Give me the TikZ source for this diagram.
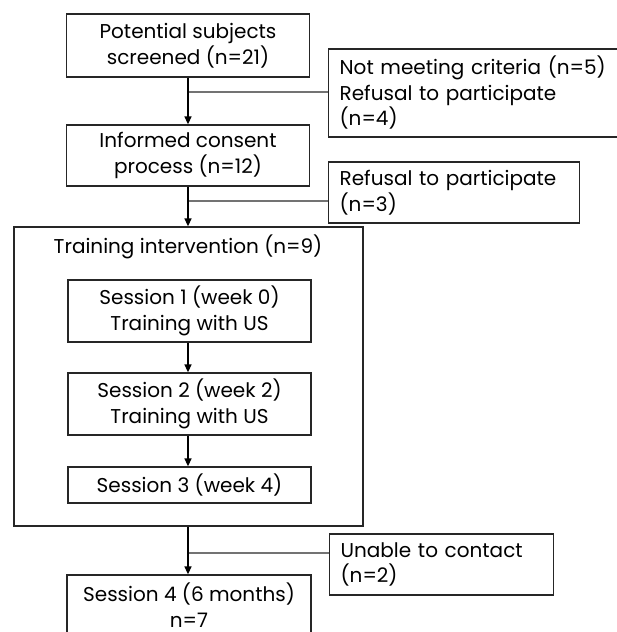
\documentclass[tikz,border=0pt]{standalone}
\usepackage{fontspec}
\setmainfont{Poppins}
\usetikzlibrary{arrows.meta,calc}
\begin{document}
\begin{tikzpicture}[x=1pt,y=1pt,
  txt/.style={font=\fontsize{20}{25.5}\selectfont},
  box/.style={txt, draw=black!85, line width=1.3pt, align=center, inner sep=0pt},
  sidebox/.style={txt, draw=black!85, line width=1.3pt, align=left, anchor=west, inner xsep=11pt, inner ysep=0pt},
  flow/.style={draw=black, line width=1.5pt, -{Triangle[length=8pt,width=7pt]}},
  branch/.style={draw=black!55, line width=1.2pt}]
\clip (0,0) rectangle (617,-632);
\fill[white] (0,0) rectangle (617,-632);
% main column
\node[box, minimum width=243pt, minimum height=63pt] (b1) at (188,-45.5) {Potential subjects\\screened (n=21)};
\node[box, minimum width=243pt, minimum height=61pt] (b2) at (188,-155.5) {Informed consent\\process (n=12)};
\node[draw=black!85, line width=1.3pt, minimum width=349pt, minimum height=299pt, inner sep=0pt] (outer) at (188.5,-376.5) {};
\node[txt] (title) at (188,-247) {Training intervention (n=9)};
\node[box, minimum width=243pt, minimum height=62pt] (s1) at (189.5,-311) {Session 1 (week 0)\\Training with US};
\node[box, minimum width=243pt, minimum height=62pt] (s2) at (189.5,-404) {Session 2 (week 2)\\Training with US};
\node[box, minimum width=243pt, minimum height=36pt] (s3) at (189.5,-485) {Session 3 (week 4)};
\node[box, minimum width=244pt, minimum height=60pt] (s4) at (189,-605) {Session 4 (6 months)\\n=7};
% side boxes
\node[sidebox, text width=290pt, minimum height=88pt] (x1) at (328,-93) {Not meeting criteria (n=5)\\Refusal to participate\\(n=4)};
\node[sidebox, text width=229pt, minimum height=61pt] (x2) at (328,-192.5) {Refusal to participate\\(n=3)};
\node[sidebox, text width=202pt, minimum height=61pt] (x3) at (329,-564.5) {Unable to contact\\(n=2)};
% junctions
\coordinate (j1) at (188,-92);
\coordinate (j2) at (188,-201);
\coordinate (j3) at (188,-553);
% connectors
\draw[branch] (j1) -- (j1 -| x1.west);
\draw[branch] (j2) -- (j2 -| x2.west);
\draw[branch] (j3) -- (j3 -| x3.west);
\draw[flow] (b1.south) -- (b2.north);
\draw[flow] (b2.south) -- (b2.south |- outer.north);
\draw[flow] (s1.south -| b1.south) -- (s2.north -| b1.south);
\draw[flow] (s2.south -| b1.south) -- (s3.north -| b1.south);
\draw[flow] (outer.south -| b1.south) -- (s4.north -| b1.south);
\end{tikzpicture}
\end{document}
